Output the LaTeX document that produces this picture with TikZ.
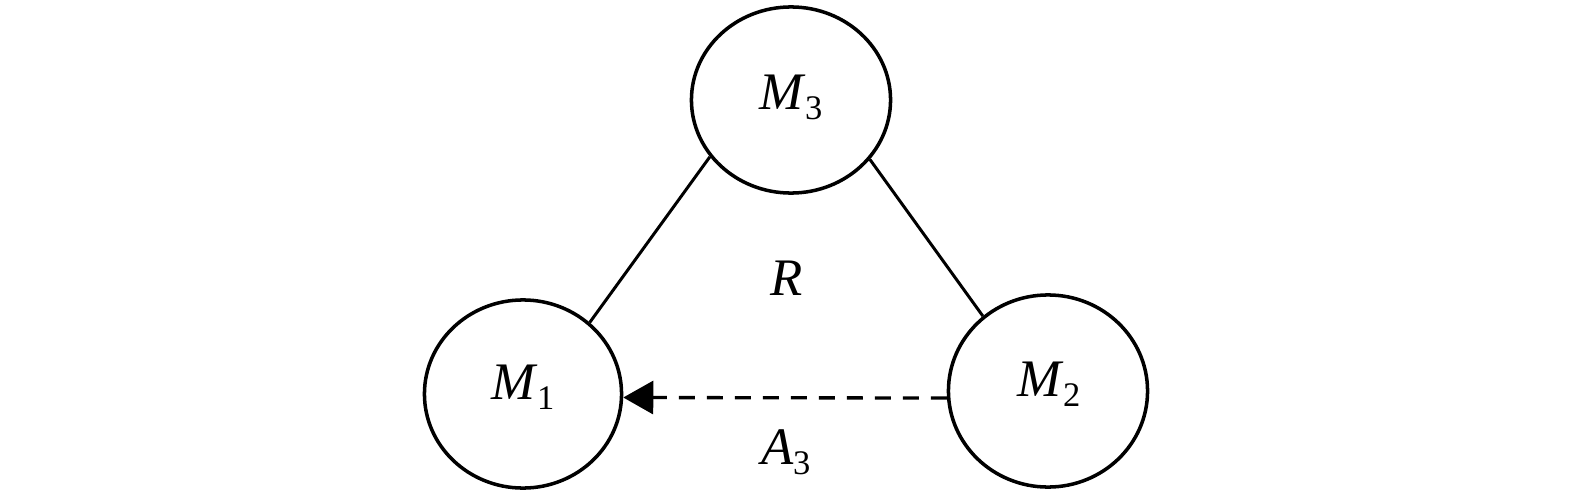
\documentclass[tikz,border=0pt]{standalone}
\usepackage{fontspec}
\setmainfont{Liberation Serif}
\usetikzlibrary{shapes.geometric,arrows.meta}
\newcommand\symsub[2]{\textit{#1}\kern-0.3pt\raisebox{-2.8pt}{\fontsize{9.8}{11}\selectfont #2}}
\tikzset{
  state/.style={draw=black, line width=1pt, ellipse, inner sep=0pt},
  lbl/.style={font=\fontsize{15}{17}\selectfont, inner sep=0pt},
  link/.style={draw=black, line width=0.85pt},
  dlink/.style={draw=black, line width=0.95pt, dash pattern=on 0.16cm off 0.12cm,
    -{Triangle[length=0.3cm,width=0.33cm]}}
}
\begin{document}
\begin{tikzpicture}[x=0.01cm,y=-0.01cm]
\useasboundingbox (0,0) rectangle (1575,494);
\node[state, minimum width=1.99cm, minimum height=1.86cm] (M3) at (791,100) {};
\node[state, minimum width=1.97cm, minimum height=1.88cm] (M1) at (523,394) {};
\node[state, minimum width=1.99cm, minimum height=1.92cm] (M2) at (1048,391) {};
\node[lbl] (t3) at (791,97) {\symsub{M}{3}};
\node[lbl] (t1) at (523,387) {\symsub{M}{1}};
\node[lbl] (t2) at (1049,384) {\symsub{M}{2}};
\node[lbl] (R) at (787,278) {\textit{R}};
\node[lbl] (A3) at (786,452) {\symsub{A}{3}};
\draw[link] (M3.215) -- (M1.47);
\draw[link] (M3.323) -- (M2.131);
\draw[dlink] (M2.184) -- (M1.-2.3);
\end{tikzpicture}
\end{document}
